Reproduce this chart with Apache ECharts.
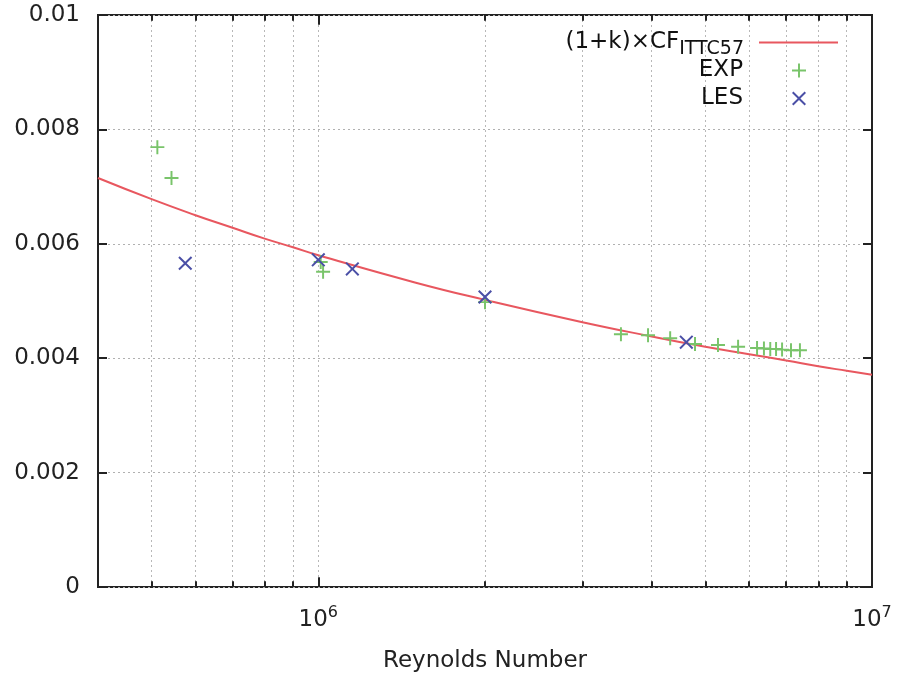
<!DOCTYPE html>
<html>
<head>
<meta charset="utf-8">
<script src="https://cdn.jsdelivr.net/npm/echarts@6/dist/echarts.min.js"></script>
<style>
  html, body { margin: 0; padding: 0; background: #fff; }
  #chart { width: 906px; height: 678px; }
</style>
</head>
<body>
<div id="chart"></div>
<script>
// (1+k)xCF ITTC57 curve
var lineRe = [4e5, 5e5, 6e5, 7e5, 8e5, 9e5, 1e6, 1.5e6, 2e6, 3e6, 4e6, 5e6, 6e6, 7e6, 8e6, 9e6, 1e7];
var lineCf = [0.00715, 0.00678, 0.00650, 0.00628, 0.00609, 0.00594, 0.00580, 0.00532, 0.00502, 0.00463, 0.00438, 0.00420, 0.00407, 0.00396, 0.00386, 0.00378, 0.00371];

// experiments
var expRe = [5.12e5, 5.43e5, 1.01e6, 1.02e6, 2.0e6, 3.52e6, 3.94e6, 4.32e6, 4.79e6, 5.27e6, 5.73e6, 6.2e6, 6.38e6, 6.55e6, 6.71e6, 6.88e6, 7.14e6, 7.41e6];
var expCf = [0.00769, 0.00715, 0.00568, 0.00551, 0.00498, 0.00442, 0.00440, 0.00435, 0.00425, 0.00423, 0.00420, 0.00418, 0.00417, 0.00416, 0.00416, 0.00415, 0.00414, 0.00414];

// LES
var lesRe = [5.75e5, 1.0e6, 1.152e6, 2.0e6, 4.62e6];
var lesCf = [0.00566, 0.00572, 0.00556, 0.00507, 0.00428];

var minorX = [5e5, 6e5, 7e5, 8e5, 9e5, 2e6, 3e6, 4e6, 5e6, 6e6, 7e6, 8e6, 9e6];
var majorX = [1e6];

var font = 'DejaVu Sans, Liberation Sans, Arial, sans-serif';
var plusPath = 'path://M4.3,0H5.7V4.3H10V5.7H5.7V10H4.3V5.7H0V4.3H4.3Z';
var crossPath = 'path://M0,1L1,0L5,4L9,0L10,1L6,5L10,9L9,10L5,6L1,10L0,9L4,5Z';

function zip(a, b) {
    return a.map(function (v, i) { return [v, b[i]]; });
}

// dotted grid lines at every decade step
var gridLines = majorX.concat(minorX).map(function (v) {
    return { xAxis: v };
});

// tick marks on bottom and top edges
var tickLines = [];
minorX.forEach(function (v) {
    tickLines.push([{ coord: [v, 0] }, { coord: [v, 0.0001] }]);
    tickLines.push([{ coord: [v, 0.01] }, { coord: [v, 0.0099] }]);
});
majorX.forEach(function (v) {
    tickLines.push([{ coord: [v, 0] }, { coord: [v, 0.00017] }]);
    tickLines.push([{ coord: [v, 0.01] }, { coord: [v, 0.00983] }]);
});

var chart = echarts.init(document.getElementById('chart'));
var option = {
    animation: false,
    backgroundColor: '#fff',
    textStyle: { fontFamily: font },
    grid: {
        left: 98, right: 34, top: 15, bottom: 91,
        show: true, borderColor: '#222', borderWidth: 2, backgroundColor: 'transparent'
    },
    legend: [{
        data: ['cf'],
        orient: 'vertical', align: 'right',
        right: 67, top: 31, padding: 0,
        itemWidth: 79, itemHeight: 14,
        selectedMode: false,
        itemStyle: { opacity: 0 },
        lineStyle: { color: '#e8575f', width: 2, opacity: 1 },
        formatter: function () { return '(1+k)×CF{sub|ITTC57}'; },
        textStyle: {
            fontSize: 23, color: '#111', padding: [0, 10, 0, 0],
            rich: { sub: { fontSize: 19, padding: [14, 0, 0, 0], color: '#111' } }
        }
    }, {
        data: ['EXP'],
        orient: 'vertical', align: 'right',
        right: 100, top: 59, padding: 0,
        itemWidth: 14, itemHeight: 14,
        selectedMode: false,
        textStyle: { fontSize: 23, color: '#111', padding: [0, 44, 0, 0] }
    }, {
        data: ['LES'],
        orient: 'vertical', align: 'right',
        right: 100, top: 87, padding: 0,
        itemWidth: 14, itemHeight: 14,
        selectedMode: false,
        textStyle: { fontSize: 23, color: '#111', padding: [0, 44, 0, 0] }
    }],
    xAxis: {
        type: 'log',
        logBase: 10,
        min: 4e5,
        max: 1e7,
        name: 'Reynolds Number',
        nameLocation: 'middle',
        nameGap: 63,
        nameTextStyle: { fontSize: 23, color: '#222' },
        axisLine: { show: false },
        axisTick: { show: false },
        splitLine: { show: false },
        minorTick: { show: false },
        axisLabel: {
            margin: 18,
            fontSize: 23,
            color: '#222',
            showMinLabel: false,
            formatter: function (v) {
                var e = Math.log10(v);
                if (Math.abs(e - Math.round(e)) > 1e-6) return '';
                return '10{s|' + Math.round(e) + '}';
            },
            rich: { s: { fontSize: 16, padding: [0, 0, 14, 0], color: '#222' } }
        }
    },
    yAxis: [{
        type: 'value',
        min: 0,
        max: 0.01,
        interval: 0.002,
        axisLine: { show: false },
        axisTick: { show: true, inside: true, length: 9, lineStyle: { color: '#222', width: 2 } },
        axisLabel: { fontSize: 23, color: '#222', margin: 18 },
        splitLine: { show: true, lineStyle: { color: '#b0b0b0', type: [2, 3], width: 1 } }
    }, {
        type: 'value',
        position: 'right',
        min: 0,
        max: 0.01,
        interval: 0.002,
        axisLine: { show: false },
        axisTick: { show: true, inside: true, length: 9, lineStyle: { color: '#222', width: 2 } },
        axisLabel: { show: false },
        splitLine: { show: false }
    }],
    series: [{
        name: 'cf',
        type: 'line',
        data: zip(lineRe, lineCf),
        smooth: true,
        showSymbol: false,
        symbol: 'none',
        z: 3,
        lineStyle: { color: '#e8575f', width: 2 },
        itemStyle: { color: '#e8575f' },
        markLine: {
            silent: true,
            symbol: ['none', 'none'],
            label: { show: false },
            lineStyle: { color: '#b8b8b8', type: [2, 3], width: 1 },
            data: gridLines,
            z: 1
        }
    }, {
        name: 'EXP',
        type: 'scatter',
        data: zip(expRe, expCf),
        symbol: plusPath,
        symbolSize: 14,
        symbolKeepAspect: true,
        z: 4,
        itemStyle: { color: '#79c46a', opacity: 1 },
        markLine: {
            silent: true,
            symbol: ['none', 'none'],
            label: { show: false },
            lineStyle: { color: '#222', type: 'solid', width: 2 },
            data: tickLines
        }
    }, {
        name: 'LES',
        type: 'scatter',
        data: zip(lesRe, lesCf),
        symbol: crossPath,
        symbolSize: 14,
        symbolKeepAspect: true,
        z: 5,
        itemStyle: { color: '#4a4fa6', opacity: 1 }
    }]
};
chart.setOption(option);
</script>
</body>
</html>
